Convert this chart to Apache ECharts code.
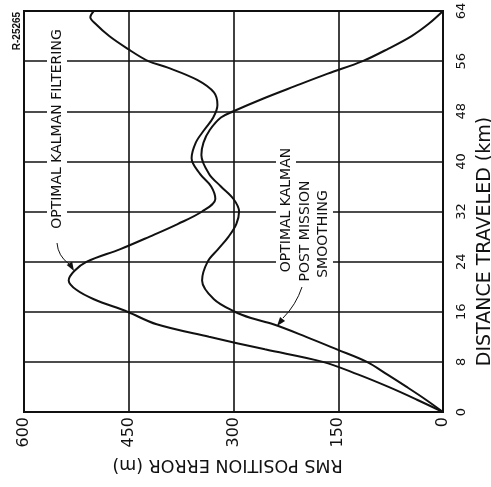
<!DOCTYPE html>
<html>
<head>
<meta charset="utf-8">
<script src="https://cdn.jsdelivr.net/npm/echarts@6/dist/echarts.min.js"></script>
<style>
  html, body { margin: 0; padding: 0; background: #ffffff; }
  #chart { width: 491px; height: 487px; }
</style>
</head>
<body>
<div id="chart"></div>
<script>
// ---- data ----
const filteringDistanceKm = [0, 2, 4, 6, 8, 10, 12, 14, 16, 18, 19.5, 21, 22.5, 24, 26, 28, 30, 32, 34, 36, 38,
                             40.5, 43, 45, 47, 49, 51, 53, 55, 56, 58, 60, 62, 63, 64];
const filteringError = [0, 38, 78, 122, 172, 255, 335, 410, 452, 500, 525, 536, 528, 510, 462, 420, 380, 345, 326, 332, 348,
                        360, 354, 342, 329, 323, 328, 352, 395, 422, 452, 478, 498, 505, 500];
const smoothingDistanceKm = [0, 2, 4, 6, 8, 10, 12, 14, 15, 16, 18, 21, 24, 26, 28, 30, 32, 34, 36, 38,
                             41, 43, 45, 47, 48, 50, 52, 54, 56, 58, 60, 62, 64];
const smoothingError = [0, 25, 52, 80, 109, 152, 196, 243, 275, 298, 328, 345, 337, 322, 307, 296, 292, 300, 318, 335,
                        346, 343, 334, 318, 300, 258, 212, 165, 115, 78, 45, 20, 0];
const errorTicks = [0, 150, 300, 450, 600];
const distanceTicks = [0, 8, 16, 24, 32, 40, 48, 56, 64];
const filteringLabel = 'OPTIMAL KALMAN FILTERING';
const smoothingLabelLines = ['OPTIMAL KALMAN', 'POST MISSION', 'SMOOTHING'];
const figureId = 'R-25265';
const xName = 'RMS POSITION ERROR (m)';
const yName = 'DISTANCE TRAVELED (km)';

const FONT = 'DejaVu Sans';
const INK = '#111';

function pairs(err, dist) { return err.map((e, i) => [e, dist[i]]); }

const chart = echarts.init(document.getElementById('chart'), null, { renderer: 'canvas' });

function arrowHead(tip, from, len, half) {
  const dx = tip[0] - from[0], dy = tip[1] - from[1];
  const l = Math.hypot(dx, dy), ux = dx / l, uy = dy / l;
  const bx = tip[0] - ux * len, by = tip[1] - uy * len;
  return [tip, [bx + uy * half, by - ux * half], [bx - uy * half, by + ux * half]];
}

const option = {
  animation: false,
  backgroundColor: '#ffffff',
  grid: { left: 24, right: 48, top: 11, bottom: 75, containLabel: false, outerBoundsMode: 'none',
          show: true, borderColor: INK, borderWidth: 2, backgroundColor: 'transparent' },
  xAxis: {
    type: 'value', min: errorTicks[0], max: errorTicks[errorTicks.length - 1], interval: 150,
    inverse: true, position: 'bottom',
    axisLine: { show: true, lineStyle: { color: INK, width: 2 } },
    axisTick: { show: false },
    splitLine: { show: true, lineStyle: { color: INK, width: 1.6 } },
    axisLabel: { rotate: 90, margin: 5, fontSize: 16, fontFamily: FONT, color: INK,
                 showMinLabel: true, showMaxLabel: true, hideOverlap: false },
    name: xName, nameLocation: 'middle', nameRotate: 180, nameGap: 40,
    nameTextStyle: { fontSize: 17.5, fontFamily: FONT, color: INK, padding: [0, 0, 0, 12] }
  },
  yAxis: {
    type: 'value', min: distanceTicks[0], max: distanceTicks[distanceTicks.length - 1], interval: 8,
    position: 'right',
    axisLine: { show: true, lineStyle: { color: INK, width: 2 } },
    axisTick: { show: false },
    splitLine: { show: true, lineStyle: { color: INK, width: 1.6 } },
    axisLabel: { rotate: 90, margin: 12, fontSize: 13, fontFamily: FONT, color: INK,
                 showMinLabel: true, showMaxLabel: true, hideOverlap: false },
    name: yName, nameLocation: 'middle', nameRotate: 90, nameGap: 28,
    nameTextStyle: { fontSize: 19, fontFamily: FONT, color: INK, padding: [0, 60, 0, 0] }
  },
  series: [
    { name: 'Filtering', type: 'line', data: pairs(filteringError, filteringDistanceKm), symbol: 'none',
      smooth: 0.35, lineStyle: { color: INK, width: 2 }, z: 3 },
    { name: 'Smoothing', type: 'line', data: pairs(smoothingError, smoothingDistanceKm), symbol: 'none',
      smooth: 0.35, lineStyle: { color: INK, width: 2 }, z: 3 }
  ],
  graphic: [
    { type: 'text', x: 17, y: 31, rotation: Math.PI / 2, z: 10,
      style: { text: figureId, font: 'bold 10px "Liberation Sans"', fill: INK, align: 'center', verticalAlign: 'middle' } },
    { type: 'text', x: 57, y: 129, rotation: Math.PI / 2, z: 10,
      style: { text: filteringLabel, font: '14px "DejaVu Sans"', fill: INK, align: 'center', verticalAlign: 'middle',
               backgroundColor: '#ffffff', padding: [3, 2] } },
    { type: 'text', x: 286, y: 210, rotation: Math.PI / 2, z: 10,
      style: { text: smoothingLabelLines[0], font: '14px "DejaVu Sans"', fill: INK, align: 'center', verticalAlign: 'middle',
               backgroundColor: '#ffffff', padding: [3, 3] } },
    { type: 'text', x: 305, y: 231, rotation: Math.PI / 2, z: 10,
      style: { text: smoothingLabelLines[1], font: '14px "DejaVu Sans"', fill: INK, align: 'center', verticalAlign: 'middle',
               backgroundColor: '#ffffff', padding: [3, 3] } },
    { type: 'text', x: 323, y: 234, rotation: Math.PI / 2, z: 10,
      style: { text: smoothingLabelLines[2], font: '14px "DejaVu Sans"', fill: INK, align: 'center', verticalAlign: 'middle',
               backgroundColor: '#ffffff', padding: [3, 3] } },
    { type: 'bezierCurve', z: 11, shape: { x1: 57, y1: 243, cpx1: 58, cpy1: 256, x2: 69, y2: 264 },
      style: { stroke: INK, lineWidth: 1, fill: null } },
    { type: 'polygon', z: 11, shape: { points: arrowHead([74, 271], [58, 244], 9, 3.2) },
      style: { fill: INK } },
    { type: 'bezierCurve', z: 11, shape: { x1: 302, y1: 287, cpx1: 296, cpy1: 305, x2: 283, y2: 318 },
      style: { stroke: INK, lineWidth: 1, fill: null } },
    { type: 'polygon', z: 11, shape: { points: arrowHead([277, 326], [292, 307], 9, 3.2) },
      style: { fill: INK } }
  ]
};
chart.setOption(option);
</script>
</body>
</html>
